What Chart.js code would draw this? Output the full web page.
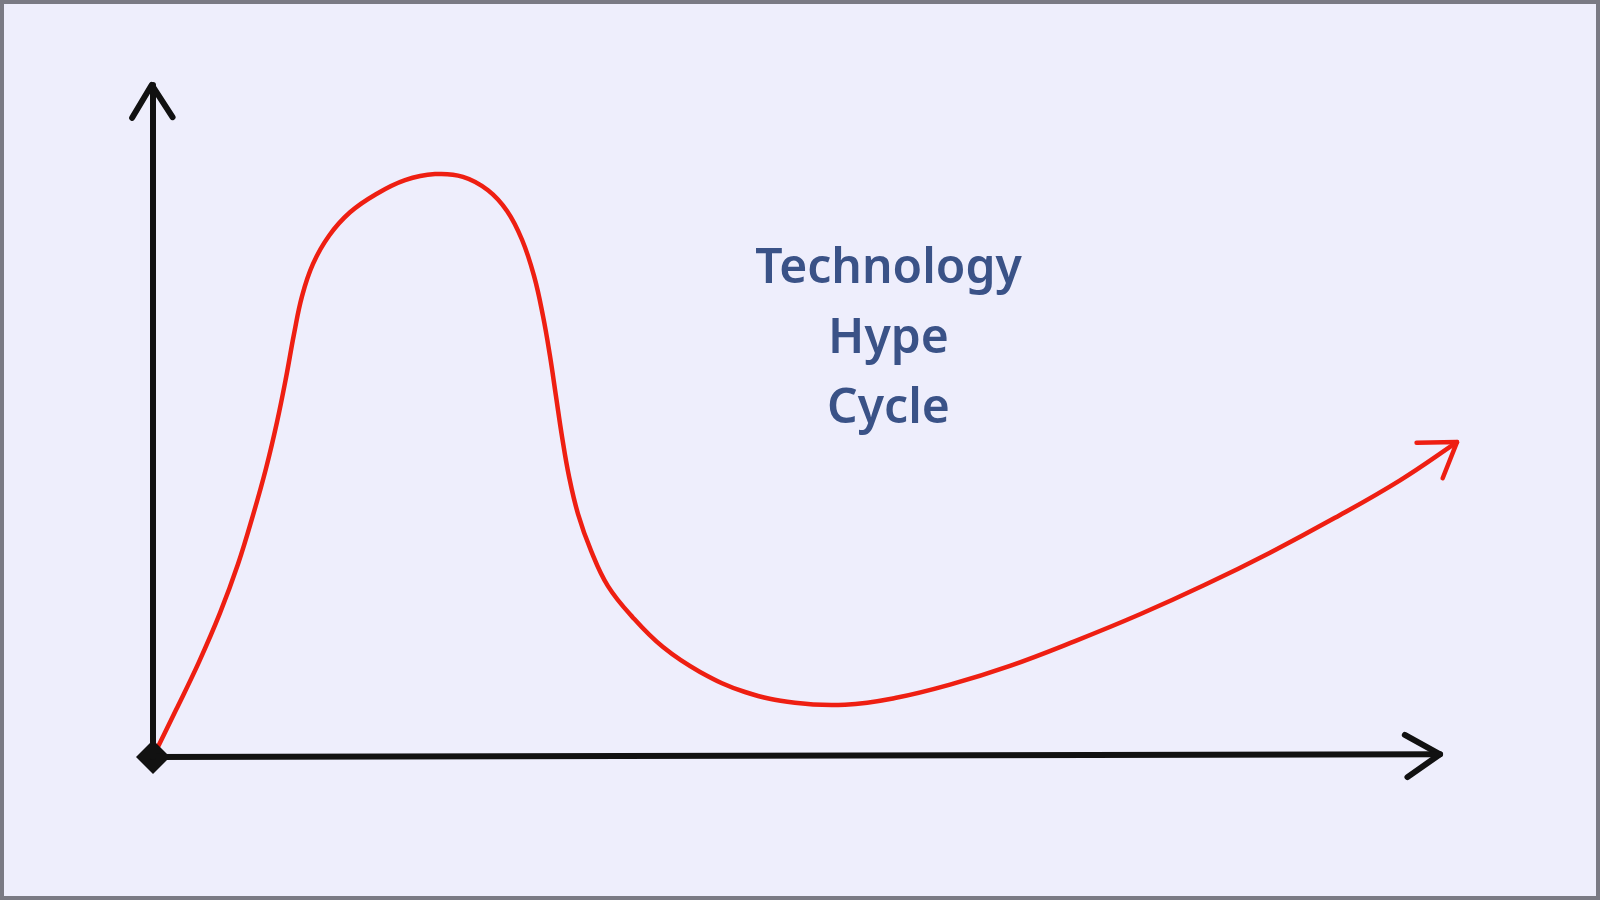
<!DOCTYPE html>
<html>
<head>
<meta charset="utf-8">
<title>Technology Hype Cycle</title>
<script src="https://cdn.jsdelivr.net/npm/chart.js@4.4.1/dist/chart.umd.min.js"></script>
<style>
  html, body { margin: 0; padding: 0; background: #eeeefc; }
  #wrap { width: 1600px; height: 900px; position: relative; }
</style>
</head>
<body>
<div id="wrap"><canvas id="hypeChart" width="1600" height="900"></canvas></div>
<script>
// Hype curve (x = time, y = expectations, both 0..100)
const hypeX = [0, 1.76, 3.53, 5.14, 6.52, 7.67, 8.67, 9.51, 10.20, 10.81, 11.43, 12.27, 13.50,
  15.11, 17.10, 19.33, 21.63, 23.77, 25.69, 27.15, 28.30, 29.22, 29.91, 30.44, 30.90, 31.36,
  31.90, 32.59, 33.59, 34.89, 36.81, 39.11, 41.95, 45.40, 49.23, 53.07, 56.90, 61.12, 65.72,
  70.71, 75.69, 80.67, 85.66, 90.64, 95.63, 100];
const hypeY = [0, 7.0, 14.2, 21.5, 28.8, 36.1, 43.1, 50.0, 56.6, 63.1, 68.8, 73.6, 77.8,
  81.3, 84.0, 86.1, 87.0, 86.6, 84.6, 81.5, 77.2, 71.8, 65.8, 59.9, 53.9, 47.9,
  41.9, 36.3, 30.8, 25.5, 20.8, 16.4, 12.7, 9.7, 8.1, 7.8, 8.8, 10.8, 13.6,
  17.3, 21.3, 25.7, 30.5, 35.7, 41.3, 47.0];

// arrowhead at the end of the curve: barb, tip, barb
const hypeHeadX = [96.9, 100, 98.9];
const hypeHeadY = [46.9, 47.0, 41.6];

// axes (origin to tip) and their arrowheads
const yAxisX = [0, 0];
const yAxisY = [0, 100.3];
const yHeadX = [-1.6, -0.1, 1.5];
const yHeadY = [95.4, 100.3, 95.5];
const xAxisX = [0, 98.7];
const xAxisY = [0, 0.4];
const xHeadX = [96.0, 98.7, 96.2];
const xHeadY = [3.3, 0.4, -3.0];

const titleLines = ["Technology", "Hype", "Cycle"];
const titleAt = { x: 56.4, y: 62.4 };

const pts = (xs, ys) => xs.map((x, i) => ({ x, y: ys[i] }));

const INK = "#111111";
const RED = "#ee1f12";

function line(data, color, width) {
  return {
    data,
    borderColor: color,
    borderWidth: width,
    borderCapStyle: "round",
    borderJoinStyle: "round",
    pointRadius: 0,
    clip: false,
  };
}

// paper background and grey frame
const paper = {
  id: "paper",
  beforeDraw(chart) {
    const c = chart.ctx;
    c.save();
    c.fillStyle = "#eeeefc";
    c.fillRect(0, 0, chart.width, chart.height);
    c.strokeStyle = "#7a7a84";
    c.lineWidth = 4;
    c.strokeRect(2, 2, chart.width - 4, chart.height - 4);
    c.restore();
  },
};

// centred label placed at a data position
const label = {
  id: "label",
  afterDatasetsDraw(chart) {
    const c = chart.ctx;
    const cx = chart.scales.x.getPixelForValue(titleAt.x);
    const cy = chart.scales.y.getPixelForValue(titleAt.y);
    c.save();
    c.fillStyle = "#3a5287";
    c.font = "600 48px 'Comic Sans MS', 'Noto Sans', sans-serif";
    c.textAlign = "center";
    c.textBaseline = "middle";
    titleLines.forEach((t, i) => c.fillText(t, cx, cy + (i - 1) * 70));
    c.restore();
  },
};

new Chart(document.getElementById("hypeChart"), {
  type: "line",
  data: {
    datasets: [
      line(pts(yAxisX, yAxisY), INK, 6),
      line(pts(yHeadX, yHeadY), INK, 6),
      line(pts(xAxisX, xAxisY), INK, 6),
      line(pts(xHeadX, xHeadY), INK, 6),
      {
        data: [{ x: 0, y: 0 }],
        pointStyle: "rectRot",
        pointRadius: 17,
        pointBackgroundColor: INK,
        pointBorderWidth: 0,
        showLine: false,
        clip: false,
      },
      Object.assign(line(pts(hypeX, hypeY), RED, 4.5), { tension: 0.4 }),
      line(pts(hypeHeadX, hypeHeadY), RED, 4.5),
    ],
  },
  options: {
    responsive: false,
    animation: false,
    // chart area spans -5..105 on both scales so arrowheads are not culled
    layout: { padding: { left: 87.8, top: 53.5, right: 77.8, bottom: 109.5 } },
    scales: {
      x: { type: "linear", min: -5, max: 105, display: false },
      y: { type: "linear", min: -5, max: 105, display: false },
    },
    plugins: {
      legend: { display: false },
      tooltip: { enabled: false },
    },
  },
  plugins: [paper, label],
});
</script>
</body>
</html>
